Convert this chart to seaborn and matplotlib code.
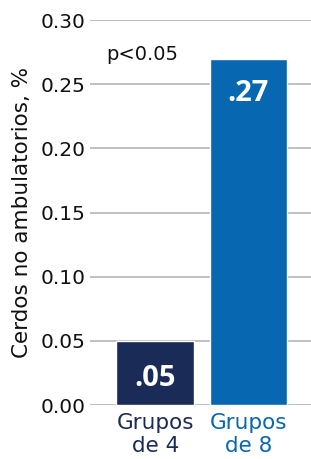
import matplotlib.pyplot as plt
import pandas as pd
import seaborn as sns

grupos = ["Grupos\nde 4", "Grupos\nde 8"]
valores = [0.05, 0.27]
etiquetas = [".05", ".27"]
colores = ["#1b2b58", "#0767b1"]
yticks = [0.00, 0.05, 0.10, 0.15, 0.20, 0.25, 0.30]

sns.set_style("white")
plt.rcParams['font.family'] = ['DejaVu Sans']

df = pd.DataFrame({"grupo": grupos, "valor": valores})

fig = plt.figure(figsize=(3.11, 4.59), dpi=100)
ax = fig.add_axes([0.289, 0.1176, 0.711, 0.8384])
sns.barplot(data=df, x="grupo", y="valor", hue="grupo", palette=colores,
            saturation=1, width=0.83, legend=False, ax=ax, zorder=3)

ax.set_ylim(0, 0.30)
ax.set_xlim(-0.70, 1.67)
ax.set_yticks(yticks)
ax.set_yticklabels(["%.2f" % t for t in yticks], fontsize=14.5, color="#111111")
ax.yaxis.grid(True, color="#b5b5b5", linewidth=1.2, zorder=0)
ax.set_axisbelow(True)
for s in ax.spines.values():
    s.set_visible(False)
ax.tick_params(axis="both", length=0)
ax.tick_params(axis="y", pad=3)
ax.tick_params(axis="x", pad=6)
ax.set_xticks(range(len(grupos)))
ax.set_xticklabels(grupos, fontsize=15.5, linespacing=1.15)
for lbl, c in zip(ax.get_xticklabels(), colores):
    lbl.set_color(c)

for i, (v, t) in enumerate(zip(valores, etiquetas)):
    y = 0.021 if v < 0.1 else v - 0.027
    ax.text(i, y, t, color="white", fontsize=21, fontweight="bold",
            family="Open Sans", ha="center", va="center", zorder=4)

ax.text(-0.52, 0.273, "p<0.05", fontsize=14, ha="left", va="center", color="#111111")
ax.set_xlabel("")
ax.set_ylabel("Cerdos no ambulatorios, %", fontsize=15.5, labelpad=6, color="#111111")

fig.savefig("out.png", dpi=100)
